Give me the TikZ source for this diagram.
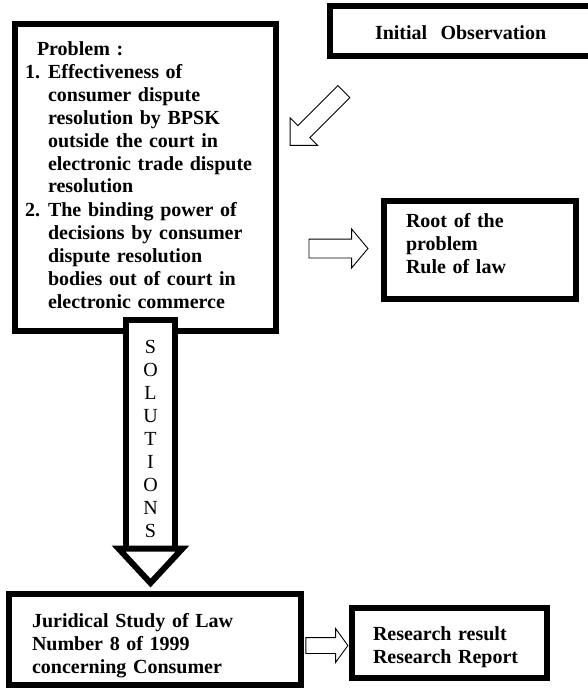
\documentclass[tikz,border=0pt]{standalone}
\usepackage{fontspec}
\setmainfont{Liberation Serif}
\usetikzlibrary{shapes.arrows}
\tikzset{framebox/.style={draw=black, line width=6pt, anchor=north west, outer sep=0pt,
   inner ysep=0pt, align=left, font=\fontsize{20}{23}\selectfont\bfseries},
 blockarrow/.style={single arrow, draw=black, line width=0.9pt, fill=white,
   inner xsep=0pt, minimum width=1pt},
 }

\begin{document}
\begin{tikzpicture}[x=1pt,y=-1pt]
        \useasboundingbox (0,0) rectangle (587,688);
        \node[framebox, inner xsep=45pt, text width=172pt, text height=33pt, text depth=17pt] (obs) at (330,6) {\mbox{Initial\ \ Observation}};
        \node[framebox, inner xsep=10pt, text width=241pt, text height=31pt, text depth=276pt] (prob) at (15,24) {%
            \hspace*{12pt}Problem :\\
            \makebox[23pt][l]{1.}Effectiveness of\\
            \hspace*{23pt}consumer dispute\\
            \hspace*{23pt}resolution by BPSK\\
            \hspace*{23pt}outside the court in\\
            \hspace*{23pt}electronic trade dispute\\
            \hspace*{23pt}resolution\\
            \makebox[23pt][l]{2.}The binding power of\\
            \hspace*{23pt}decisions by consumer\\
            \hspace*{23pt}dispute resolution\\
            \hspace*{23pt}bodies out of court in\\
            \hspace*{23pt}electronic commerce};
        \node[framebox, inner xsep=22pt, text width=148pt, text height=26pt, text depth=72pt] (root) at (384,201) {Root of the\\problem\\Rule of law};
        \node[framebox, inner xsep=23pt, text width=246pt, text height=33pt, text depth=57.5pt] (jur) at (9,594) {Juridical Study of Law\\Number 8 of 1999\\concerning Consumer};
        \node[framebox, inner xsep=21pt, text width=153pt, text height=32pt, text depth=38pt] (res) at (352,608) {Research result\\Research Report};

        \node[blockarrow, rotate=-135, minimum height=76pt, inner ysep=8pt, single arrow head extend=11pt, single arrow tip angle=90] (diag) at (320,115.5) {};
        \node[blockarrow, minimum height=59pt, inner ysep=9pt, single arrow head extend=10pt, single arrow tip angle=100] (mid) at (334.5,248.5) {};
        \node[blockarrow, minimum height=42pt, inner ysep=7.5pt, single arrow head extend=9pt, single arrow tip angle=108] (low) at (324,645.5) {};

        \node[draw=black, line width=6pt, fill=white, anchor=north, outer sep=0pt, inner sep=0pt, minimum width=49pt, text width=49pt, align=center, text height=33pt, text depth=195.5pt, font=\fontsize{20}{23}\selectfont] (sol) at (150.5,320) {S\\O\\L\\U\\T\\I\\O\\N\\S};
        \draw[line width=6pt, fill=white] ([xshift=-32pt]sol.south) -- ([xshift=32pt]sol.south) -- ([yshift=-34.5pt]sol.south) -- cycle;
    \end{tikzpicture}
\end{document}
